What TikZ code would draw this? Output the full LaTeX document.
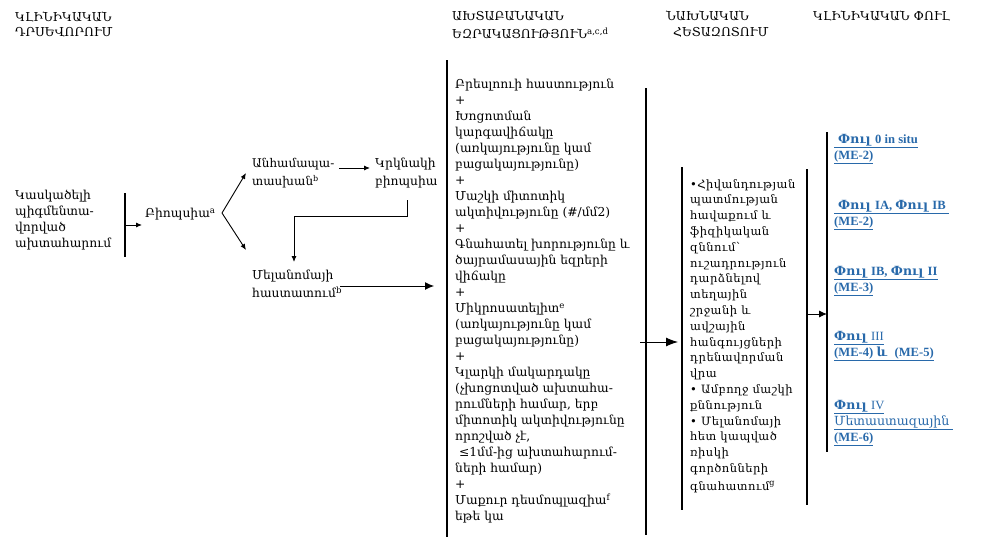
\documentclass[tikz,border=0pt]{standalone}
\usepackage{fontspec}
\setmainfont{DejaVu Serif}
\newfontfamily\tnr{Liberation Serif}
\newfontfamily\spc[LetterSpace=4]{DejaVu Serif}
\usetikzlibrary{arrows.meta}
\definecolor{phaseblue}{RGB}{40,105,170}
\begin{document}
\begin{tikzpicture}[x=1pt,y=-1pt,
  txt/.style={anchor=north west,inner sep=0pt,align=left,font=\fontsize{12.3}{16}\selectfont},
  hdr/.style={anchor=north west,inner sep=0pt,align=left,font=\fontsize{12.3}{14.5}\selectfont},
  ln/.style={line width=1.2pt},
  arr/.style={-{Latex[length=6pt,width=5pt]},line width=0.9pt},
  bigarr/.style={-{Latex[length=12pt,width=9pt]},line width=0.9pt},
  phase/.style={anchor=north west,inner sep=0pt,align=left,text=phaseblue,font=\fontsize{12.6}{16}\selectfont\bfseries}]
\useasboundingbox (0,0) rectangle (989,549);

% headers
\node[hdr] (h1) at (15,12) {ԿԼԻՆԻԿԱԿԱՆ\\ԴՐՍԵՎՈՐՈՒՄ};
\node[hdr,font=\fontsize{12.3}{18}\selectfont] (h2) at (452,11) {ԱԽՏԱԲԱՆԱԿԱՆ\\ԵԶՐԱԿԱՑՈՒԹՅՈՒՆ\textsuperscript{a,c,d}};
\node[hdr,font=\fontsize{12.3}{16}\selectfont] (h3) at (666,11) {ՆԱԽՆԱԿԱՆ\\\hspace{7pt}ՀԵՏԱԶՈՏՈՒՄ};
\node[hdr] (h4) at (813,11) {ԿԼԻՆԻԿԱԿԱՆ ՓՈՒԼ};

% left
\node[txt] (susp) at (15,190) {Կասկածելի\\պիգմենտա-\\վորված\\ախտահարում};
\coordinate (vL1) at (125,193); \coordinate (vL2) at (125,257);
\draw[ln] (vL1) -- (vL2);
\coordinate (a1s) at (125,225); \coordinate (a1e) at (142,225);
\draw[arr] (a1s) -- (a1e);
\node[txt,anchor=west] (bio) at (145,214) {Բիոպսիա\textsuperscript{a}};
\coordinate (br) at (222,213);
\coordinate (brU) at (246,173); \coordinate (brD) at (246,250);
\draw[arr] (br) -- (brU);
\draw[arr] (br) -- (brD);
\node[txt,font=\fontsize{12}{18}\selectfont] (mism) at (252,158) {Անհամապա-\\տասխան\textsuperscript{b}};
\coordinate (a2s) at (339,168); \coordinate (a2e) at (370,168);
\draw[arr] (a2s) -- (a2e);
\node[txt,font=\fontsize{12.3}{18}\selectfont] (rep) at (375,158) {Կրկնակի\\բիոպսիա};
\coordinate (e1) at (407,200); \coordinate (e2) at (294,262);
\draw[arr] (e1) -- ++(0,16) -| (e2);
\node[txt,font=\fontsize{12.3}{18}\selectfont] (conf) at (252,270) {Մելանոմայի\\հաստատում\textsuperscript{b}};
\coordinate (a3s) at (340,286); \coordinate (a3e) at (434,286);
\draw[arr,-{Latex[length=9pt,width=8pt]}] (a3s) -- (a3e);

% middle box
\coordinate (mL1) at (447,60); \coordinate (mL2) at (447,537);
\coordinate (mR1) at (646,88); \coordinate (mR2) at (646,535);
\draw[ln] (mL1) -- (mL2);
\draw[ln] (mR1) -- (mR2);
\node[txt] (path) at (455,79) {Բրեսլոուի հաստություն\\
+\\
Խոցոտման\\
կարգավիճակը\\
(առկայությունը կամ\\
բացակայությունը)\\
+\\
Մաշկի միտոտիկ\\
ակտիվությունը (\#/մմ2)\\
+\\
Գնահատել խորությունը և\\
ծայրամասային եզրերի\\
վիճակը\\
+\\
Միկրոսատելիտ\textsuperscript{e}\\
(առկայությունը կամ\\
բացակայությունը)\\
+\\
Կլարկի մակարդակը\\
(չխոցոտված ախտահա-\\
րումների համար, երբ\\
միտոտիկ ակտիվությունը\\
որոշված չէ,\\
\ ≤1մմ-ից ախտահարում-\\
ների համար)\\
+\\
Մաքուր դեսմոպլազիա\textsuperscript{f}\\
եթե կա};
\coordinate (a4s) at (640,342); \coordinate (a4e) at (678,342);
\draw[bigarr] (a4s) -- (a4e);

% initial workup box
\coordinate (nL1) at (682,167); \coordinate (nL2) at (682,510);
\coordinate (nR1) at (807,169); \coordinate (nR2) at (807,505);
\draw[ln] (nL1) -- (nL2);
\draw[ln] (nR1) -- (nR2);
\node[txt,font=\fontsize{11.5}{15.8}\selectfont\spc] (work) at (690,179) {•Հիվանդության\\
պատմության\\
հավաքում և\\
ֆիզիկական\\
զննում՝\\
ուշադրություն\\
դարձնելով\\
տեղային\\
շրջանի և\\
ավշային\\
հանգույցների\\
դրենավորման\\
վրա\\
• Ամբողջ մաշկի\\
քննություն\\
• Մելանոմայի\\
հետ կապված\\
ռիսկի\\
գործոնների\\[2pt]
գնահատում\textsuperscript{g}};
\coordinate (a5s) at (807,314); \coordinate (a5e) at (827,314);
\draw[arr,-{Latex[length=8pt,width=7pt]}] (a5s) -- (a5e);

% stage line
\coordinate (sL1) at (827,132); \coordinate (sL2) at (827,452);
\draw[ln] (sL1) -- (sL2);

% stages
\node[phase] (p0) at (834,134) {\underline{\hspace{4pt}Փուլ {\tnr 0 in situ}}\\\underline{\tnr (ME-2)}};
\node[phase] (p1) at (834,200) {\underline{\hspace{4pt}Փուլ {\tnr IA, }Փուլ {\tnr IB}\hspace{3pt}}\\\underline{\tnr (ME-2)}};
\node[phase] (p2) at (834,266) {\underline{Փուլ {\tnr IB, }Փուլ {\tnr II}}\\\underline{\tnr (ME-3)}};
\node[phase] (p3) at (834,331) {\underline{Փուլ {\tnr\mdseries III}}\\\underline{{\tnr (ME-4) }և {\tnr\ (ME-5)}}};
\node[phase] (p4) at (834,400) {\underline{Փուլ {\tnr\mdseries IV}}\\\underline{\mdseries Մետաստազային\ }\\\underline{\tnr (ME-6)}};
\end{tikzpicture}
\end{document}
